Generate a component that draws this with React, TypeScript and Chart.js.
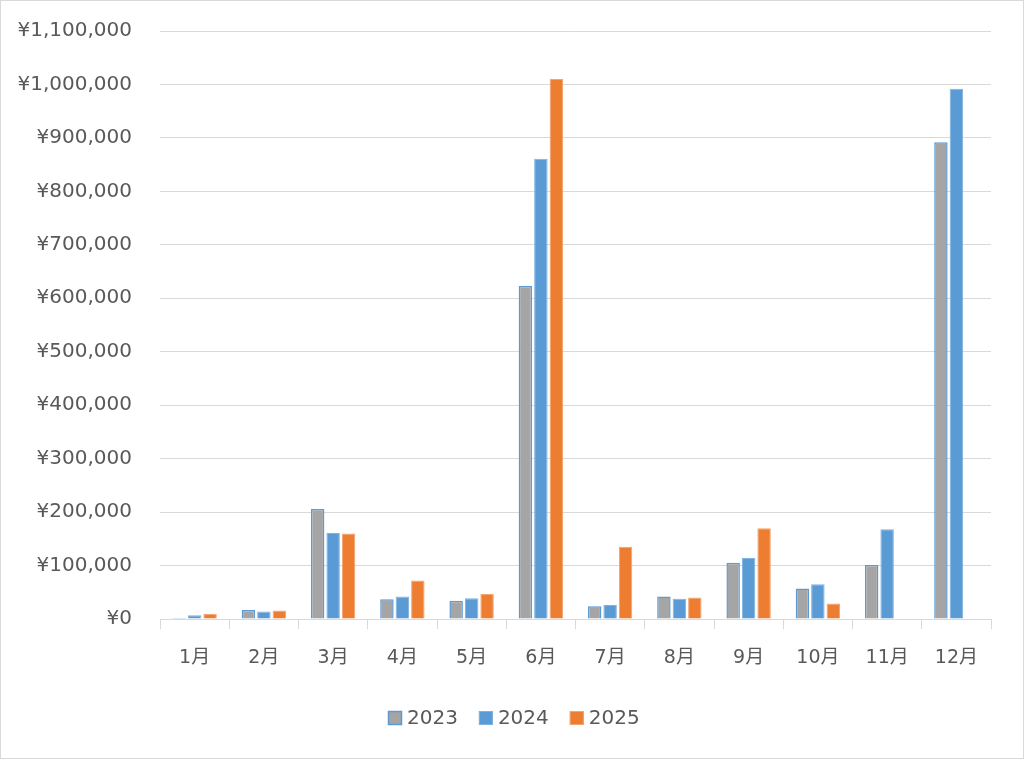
import React, { useEffect, useRef } from "react";
import { Chart, registerables } from "chart.js";

Chart.register(...registerables);

const months = ["1月", "2月", "3月", "4月", "5月", "6月", "7月", "8月", "9月", "10月", "11月", "12月"];
const series2023 = [2000, 17000, 206000, 37000, 34000, 623000, 24000, 42000, 105000, 57000, 101000, 892000];
const series2024 = [7000, 14000, 161000, 42000, 39000, 861000, 26000, 38000, 114000, 65000, 168000, 992000];
const series2025 = [10000, 16000, 160000, 72000, 47000, 1010000, 135000, 40000, 170000, 29000, null, null];

const FONT = "'DejaVu Sans', 'Noto Sans CJK JP', sans-serif";
const TEXT = "#595959";
const GRID = "#D9D9D9";

const bgPlugin = {
  id: "bg",
  beforeDraw(chart: any) {
    const { ctx, width, height } = chart;
    ctx.save();
    ctx.fillStyle = "#ffffff";
    ctx.fillRect(0, 0, width, height);
    ctx.strokeStyle = GRID;
    ctx.lineWidth = 1;
    ctx.strokeRect(0.5, 0.5, width - 1, height - 1);
    ctx.restore();
  },
};

// Excel-style legend: small square, tight gap, text
const legendPlugin = {
  id: "excelLegend",
  afterDraw(chart: any) {
    const { ctx, width } = chart;
    const ds = chart.data.datasets;
    const box = 14, gap = 5, spacing = 21, cy = 718;
    ctx.save();
    ctx.font = `20px ${FONT}`;
    const widths = ds.map((d: any) => ctx.measureText(d.label).width);
    const total = widths.reduce((a: number, w: number) => a + box + gap + w, 0) + spacing * (ds.length - 1);
    let x = Math.round((width - total) / 2) + 2;
    ds.forEach((d: any, i: number) => {
      ctx.fillStyle = d.backgroundColor;
      ctx.fillRect(x, cy - box / 2, box, box);
      ctx.strokeStyle = d.borderColor;
      ctx.lineWidth = d.borderWidth;
      ctx.strokeRect(x + 0.5, cy - box / 2 + 0.5, box - 1, box - 1);
      ctx.fillStyle = TEXT;
      ctx.textBaseline = "middle";
      ctx.textAlign = "left";
      ctx.fillText(d.label, x + box + gap, cy + 1);
      x += box + gap + widths[i] + spacing;
    });
    ctx.restore();
  },
};

export default function App() {
  const ref = useRef<HTMLCanvasElement>(null);
  useEffect(() => {
    document.body.style.margin = "0";
    const chart = new Chart(ref.current!, {
      type: "bar",
      data: {
        labels: months,
        datasets: [
          { label: "2023", data: series2023, backgroundColor: "#A5A5A5", borderColor: "#5B9BD5", borderWidth: 1.5 },
          { label: "2024", data: series2024, backgroundColor: "#5B9BD5", borderColor: "#7FB2E0", borderWidth: 1 },
          { label: "2025", data: series2025 as any, backgroundColor: "#ED7D31", borderColor: "#F4A46E", borderWidth: 1 },
        ],
      },
      options: {
        responsive: false,
        animation: false,
        layout: { padding: { top: 31, right: 33, bottom: 74, left: 0 } },
        datasets: { bar: { categoryPercentage: 0.67, barPercentage: 0.87 } },
        scales: {
          x: {
            grid: { offset: true, drawOnChartArea: false, drawTicks: true, tickLength: 10, color: GRID },
            border: { display: true, color: GRID },
            ticks: { color: TEXT, font: { family: FONT, size: 19 }, padding: 18 },
            afterFit(scale: any) { scale.height = 66; },
          },
          y: {
            min: 0,
            max: 1100000,
            grid: { color: GRID, drawTicks: true, tickLength: 28, tickColor: "rgba(0,0,0,0)" },
            border: { display: false },
            ticks: {
              stepSize: 100000,
              color: TEXT,
              font: { family: FONT, size: 20 },
              padding: 0,
              callback: (v: any) => "¥" + Number(v).toLocaleString("en-US"),
            },
            afterFit(scale: any) { scale.width = 160; },
          },
        },
        plugins: {
          legend: { display: false },
          tooltip: { enabled: false },
        },
      },
      plugins: [bgPlugin, legendPlugin],
    });
    return () => chart.destroy();
  }, []);
  return <canvas ref={ref} width={1024} height={759} style={{ display: "block" }} />;
}
